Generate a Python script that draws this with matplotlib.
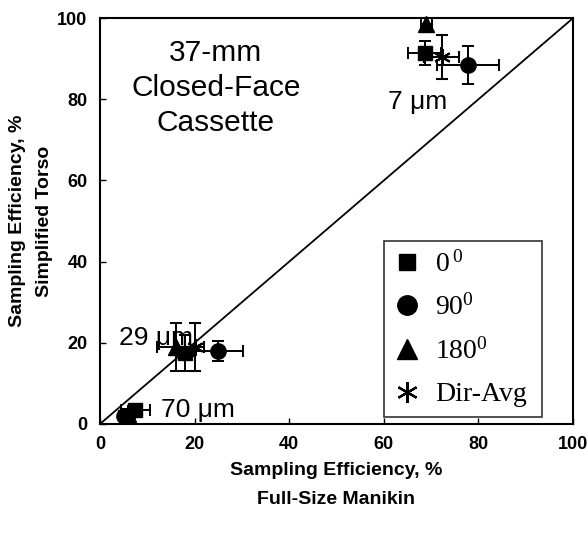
import matplotlib
matplotlib.use("Agg")
import matplotlib.pyplot as plt
from matplotlib.lines import Line2D

plt.rcParams['font.family'] = ['Liberation Sans', 'DejaVu Sans']
plt.rcParams['mathtext.fontset'] = 'custom'
plt.rcParams['mathtext.rm'] = 'Liberation Serif'

# full-size manikin (x) vs simplified torso (y), % sampling efficiency
# order in each list: 7 um, 29 um, 70 um
sq_x = [68.7, 18.0, 7.5]
sq_y = [91.4, 17.5, 3.5]
sq_xerr = [3.5, 2.0, 3.0]
sq_yerr = [3.0, 4.5, 1.0]

ci_x = [77.8, 25.0, 5.0]
ci_y = [88.4, 18.0, 2.0]
ci_xerr = [6.5, 5.3, 1.0]
ci_yerr = [4.7, 2.5, 1.0]

tr_x = [69.0, 16.0, 6.0]
tr_y = [98.5, 19.0, 2.5]
tr_xerr = [1.2, 4.0, 1.0]
tr_yerr = [1.5, 6.0, 1.0]

da_x = [72.3, 20.0, 6.0]
da_y = [90.5, 19.0, 2.7]
da_xerr = [3.7, 2.0, 1.5]
da_yerr = [5.4, 6.0, 1.0]

size_labels = ["7 \u03bcm", "29 \u03bcm", "70 \u03bcm"]
label_pos = [(67.2, 79.3), (11.8, 21.2), (12.8, 3.4)]
label_ha = ["center", "center", "left"]

legend_labels = [r"$\mathrm{0^{\,0}}$", r"$\mathrm{90^{0}}$", r"$\mathrm{180^{0}}$", "Dir-Avg"]
asterisk = (6, 2, 0)

fig = plt.figure(figsize=(5.88, 5.34), dpi=100)
ax = fig.add_axes([0.170, 0.206, 0.8045, 0.760])

ax.plot([0, 100], [0, 100], color="black", lw=1.3, zorder=1)

eb = dict(color="black", ecolor="black", elinewidth=1.4, capsize=4, capthick=1.4,
          linestyle="none", zorder=3, clip_on=False)
ax.errorbar(sq_x, sq_y, xerr=sq_xerr, yerr=sq_yerr, marker="s", ms=10, **eb)
ax.errorbar(ci_x, ci_y, xerr=ci_xerr, yerr=ci_yerr, marker="o", ms=11, **eb)
ax.errorbar(tr_x, tr_y, xerr=tr_xerr, yerr=tr_yerr, marker="^", ms=11, **eb)
ax.errorbar(da_x, da_y, xerr=da_xerr, yerr=da_yerr, marker=asterisk, ms=12, mew=1.5, **eb)

for t, (x, y), ha in zip(size_labels, label_pos, label_ha):
    ax.text(x, y, t, fontsize=19, ha=ha, va="center")

ax.text(24.5, 82.8, "37-mm\nClosed-Face\nCassette", fontsize=21.5, ha="center", va="center",
        linespacing=1.3)

ax.set_xlim(0, 100)
ax.set_ylim(0, 100)
ax.set_xticks(range(0, 101, 20))
ax.set_yticks(range(0, 101, 20))
ax.tick_params(direction="in", length=4, width=1, labelsize=13, pad=9)
for lab in ax.get_xticklabels() + ax.get_yticklabels():
    lab.set_fontweight("bold")
for s in ax.spines.values():
    s.set_linewidth(1.5)

ax.set_xlabel("Sampling Efficiency, %\nFull-Size Manikin", fontsize=14, fontweight="bold",
              labelpad=6, linespacing=1.9)
ax.set_ylabel("Sampling Efficiency, %\nSimplified Torso", fontsize=14, fontweight="bold",
              labelpad=3, linespacing=1.8)

handles = [
    Line2D([], [], color="black", marker="s", ms=11.5, ls="none"),
    Line2D([], [], color="black", marker="o", ms=14, ls="none"),
    Line2D([], [], color="black", marker="^", ms=14, ls="none"),
    Line2D([], [], color="black", marker=asterisk, ms=15, mew=1.6, ls="none"),
]
leg = ax.legend(handles, legend_labels, loc="lower left",
                bbox_to_anchor=(0.600, 0.017, 0.334, 0.436), mode="expand",
                frameon=True, fancybox=False, edgecolor="black",
                handlelength=1.0, handletextpad=0.5, labelspacing=0.62,
                borderpad=0.35, borderaxespad=0,
                prop={'family': 'Liberation Serif', 'size': 20})
leg.get_frame().set_linewidth(1.2)

fig.savefig("out.png", dpi=100)
